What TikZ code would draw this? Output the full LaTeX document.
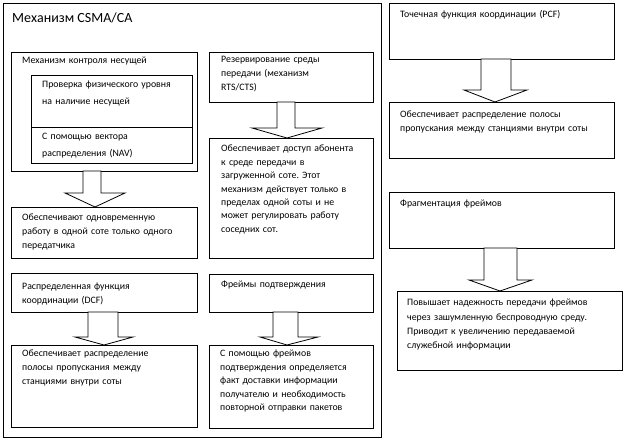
\documentclass[tikz,border=0pt]{standalone}
\usepackage{fontspec}
\setmainfont{Carlito}
\frenchspacing
\begin{document}
\begin{tikzpicture}[x=1pt,y=-1pt,
  box/.style={draw=black, line width=0.8pt, inner sep=0pt, outer sep=0pt, anchor=north west, fill=white},
  txt/.style={anchor=base west, inner sep=0pt, align=left, text width=#1, font=\fontsize{9.8}{13.6}\selectfont},
  txt/.default=225pt,
  blk/.style={draw=black, line width=0.8pt, fill=white, line join=miter}]
\useasboundingbox (0,0) rectangle (625,443);
% outer frame
\node[box, minimum width=378, minimum height=434] (outer) at (3,3) {};
\node[anchor=base west, inner sep=0pt, font=\fontsize{14}{16}\selectfont] (title) at (12,23) {Механизм CSMA/CA};
% left column
\node[box, minimum width=186, minimum height=119] (A) at (11,52) {};
\node[box, minimum width=161, minimum height=52] (A1) at (31,75) {};
\node[box, minimum width=161, minimum height=36] (A2) at (31,127) {};
\node[box, minimum width=186, minimum height=51] (B) at (11,207) {};
\node[box, minimum width=186, minimum height=39] (C) at (11,273) {};
\node[box, minimum width=186, minimum height=82] (D) at (11,345) {};
% middle column
\node[box, minimum width=164, minimum height=50] (E) at (209,52) {};
\node[box, minimum width=164, minimum height=120] (F) at (209,138) {};
\node[box, minimum width=164, minimum height=38] (G) at (209,274) {};
\node[box, minimum width=164, minimum height=83] (H) at (209,345) {};
% right column
\node[box, minimum width=225, minimum height=56] (P) at (389,3) {};
\node[box, minimum width=225, minimum height=56] (P2) at (389,102) {};
\node[box, minimum width=225, minimum height=56] (Fr) at (389,192) {};
\node[box, minimum width=225, minimum height=79] (Fr2) at (397,291) {};
% block arrows
\draw[blk] (83,0 |- A.south) -- (83,193) -- (65,193) -- (95,0 |- B.north) -- (125,193) -- (101,193) -- (101,0 |- A.south) -- cycle;
\draw[blk] (88,0 |- C.south) -- (88,337) -- (75,337) -- (104,0 |- D.north) -- (133,337) -- (118,337) -- (118,0 |- C.south) -- cycle;
\draw[blk] (277,0 |- E.south) -- (277,128) -- (252,128) -- (287,0 |- F.north) -- (322,128) -- (295,128) -- (295,0 |- E.south) -- cycle;
\draw[blk] (273,0 |- G.south) -- (273,337) -- (260,337) -- (287,0 |- H.north) -- (318,337) -- (298,337) -- (298,0 |- G.south) -- cycle;
\draw[blk] (481,0 |- P.south) -- (481,90) -- (464,90) -- (495,0 |- P2.north) -- (527,90) -- (511,90) -- (511,0 |- P.south) -- cycle;
\draw[blk] (484,0 |- Fr.south) -- (484,280) -- (469,280) -- (500,0 |- Fr2.north) -- (532,280) -- (517,280) -- (517,0 |- Fr.south) -- cycle;
% texts
\node[txt] (tA) at (22,64) {Механизм контроля несущей};
\node[txt, font=\fontsize{9.8}{16.3}\selectfont] (tA1) at (42,88) {Проверка физического уровня\\на наличие несущей};
\node[txt, font=\fontsize{9.8}{16.8}\selectfont] (tA2) at (42,140) {С помощью вектора\\распределения (NAV)};
\node[txt] (tB) at (22,221) {Обеспечивают одновременную\\работу в одной соте только одного\\передатчика};
\node[txt] (tC) at (22,290) {Распределенная функция\\координации (DCF)};
\node[txt] (tD) at (22,357) {Обеспечивает распределение\\полосы пропускания между\\станциями внутри соты};
\node[txt] (tE) at (221,63) {Резервирование среды\\передачи (механизм\\RTS/CTS)};
\node[txt, font=\fontsize{9.8}{13.4}\selectfont] (tF) at (221,152) {Обеспечивает доступ абонента\\к среде передачи в\\загруженной соте. Этот\\механизм действует только в\\пределах одной соты и не\\может регулировать работу\\соседних сот.};
\node[txt] (tG) at (221,288) {Фреймы подтверждения};
\node[txt, font=\fontsize{9.8}{13.5}\selectfont] (tH) at (220,357) {С помощью фреймов\\подтверждения определяется\\факт доставки информации\\получателю и необходимость\\повторной отправки пакетов};
\node[txt] (tP) at (400,18) {Точечная функция координации (PCF)};
\node[txt, font=\fontsize{9.8}{14}\selectfont] (tP2) at (400,118) {Обеспечивает распределение полосы\\пропускания между станциями внутри соты};
\node[txt] (tFr) at (400,207) {Фрагментация фреймов};
\node[txt, font=\fontsize{9.8}{14.2}\selectfont] (tFr2) at (407,306) {Повышает надежность передачи фреймов\\через зашумленную беспроводную среду.\\Приводит к увеличению передаваемой\\служебной информации};
\end{tikzpicture}
\end{document}
